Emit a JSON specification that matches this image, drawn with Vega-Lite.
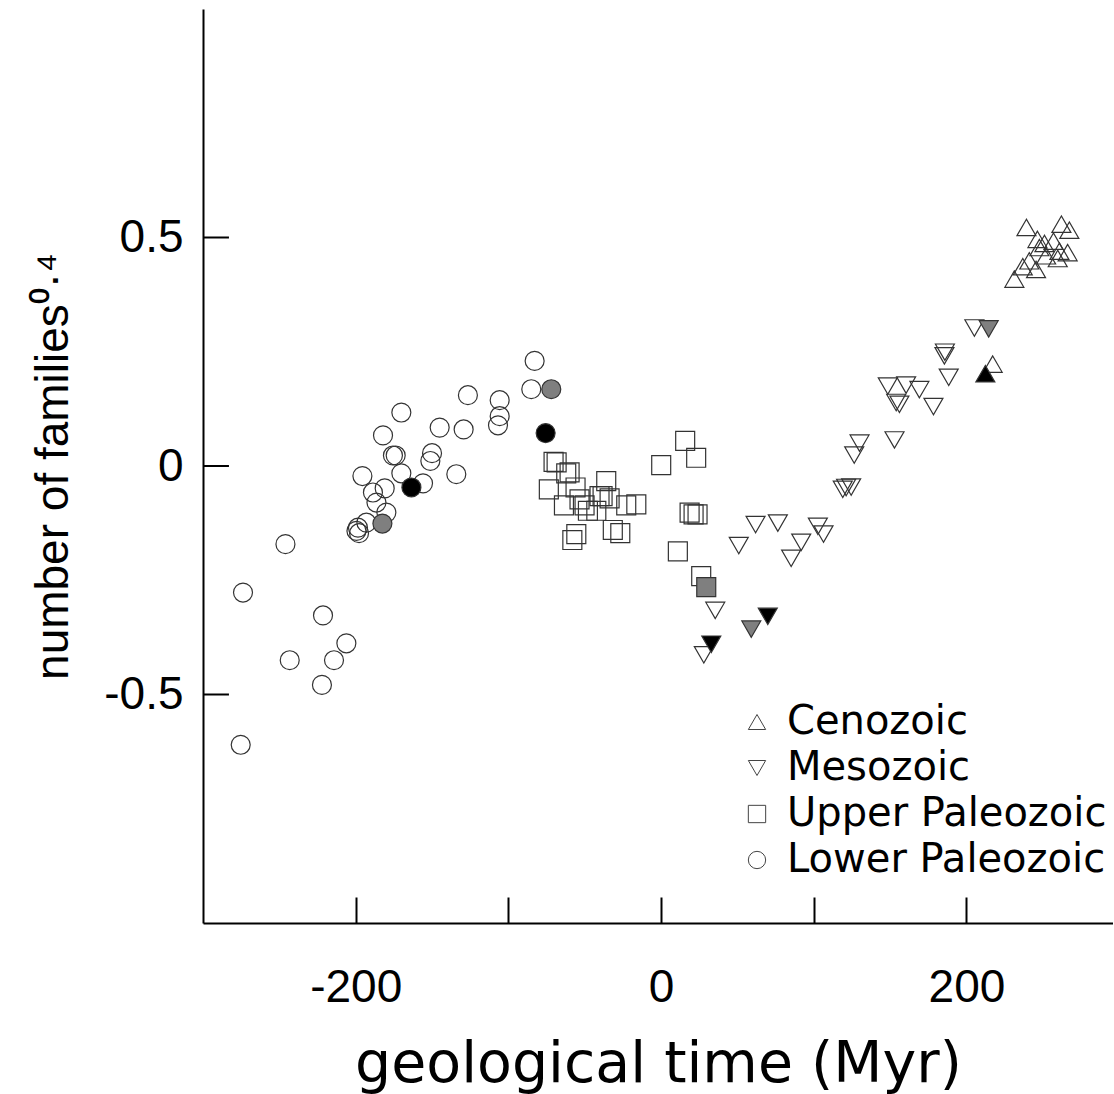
{
  "$schema": "https://vega.github.io/schema/vega-lite/v6.json",
  "width": 910,
  "height": 914,
  "autosize": {"type": "none"},
  "padding": {"left": 203, "top": 9, "right": 0, "bottom": 171},
  "background": "white",
  "config": {
    "view": {"stroke": null},
    "font": "Liberation Sans",
    "axis": {"grid": false, "domainColor": "black", "domainWidth": 2, "tickColor": "black", "tickWidth": 2, "labelColor": "black", "titleColor": "black", "titleFontWeight": "normal", "labelFont": "Liberation Sans"}
  },
  "layer": [
    {
      "data": {
        "values": [
          {"t": -275.3, "n": -0.610, "era": "Lower Paleozoic", "fill": "open"},
          {"t": -273.8, "n": -0.277, "era": "Lower Paleozoic", "fill": "open"},
          {"t": -246.0, "n": -0.171, "era": "Lower Paleozoic", "fill": "open"},
          {"t": -243.2, "n": -0.425, "era": "Lower Paleozoic", "fill": "open"},
          {"t": -222.1, "n": -0.479, "era": "Lower Paleozoic", "fill": "open"},
          {"t": -221.4, "n": -0.327, "era": "Lower Paleozoic", "fill": "open"},
          {"t": -214.2, "n": -0.425, "era": "Lower Paleozoic", "fill": "open"},
          {"t": -206.1, "n": -0.388, "era": "Lower Paleozoic", "fill": "open"},
          {"t": -198.5, "n": -0.135, "era": "Lower Paleozoic", "fill": "open"},
          {"t": -199.5, "n": -0.142, "era": "Lower Paleozoic", "fill": "open"},
          {"t": -197.8, "n": -0.147, "era": "Lower Paleozoic", "fill": "open"},
          {"t": -195.6, "n": -0.022, "era": "Lower Paleozoic", "fill": "open"},
          {"t": -193.0, "n": -0.124, "era": "Lower Paleozoic", "fill": "open"},
          {"t": -188.7, "n": -0.058, "era": "Lower Paleozoic", "fill": "open"},
          {"t": -186.4, "n": -0.080, "era": "Lower Paleozoic", "fill": "open"},
          {"t": -181.0, "n": -0.049, "era": "Lower Paleozoic", "fill": "open"},
          {"t": -182.1, "n": 0.067, "era": "Lower Paleozoic", "fill": "open"},
          {"t": -179.9, "n": -0.102, "era": "Lower Paleozoic", "fill": "open"},
          {"t": -175.6, "n": 0.023, "era": "Lower Paleozoic", "fill": "open"},
          {"t": -173.8, "n": 0.023, "era": "Lower Paleozoic", "fill": "open"},
          {"t": -170.1, "n": -0.016, "era": "Lower Paleozoic", "fill": "open"},
          {"t": -170.1, "n": 0.117, "era": "Lower Paleozoic", "fill": "open"},
          {"t": -155.9, "n": -0.038, "era": "Lower Paleozoic", "fill": "open"},
          {"t": -151.1, "n": 0.011, "era": "Lower Paleozoic", "fill": "open"},
          {"t": -150.0, "n": 0.028, "era": "Lower Paleozoic", "fill": "open"},
          {"t": -145.0, "n": 0.084, "era": "Lower Paleozoic", "fill": "open"},
          {"t": -134.1, "n": -0.018, "era": "Lower Paleozoic", "fill": "open"},
          {"t": -129.3, "n": 0.080, "era": "Lower Paleozoic", "fill": "open"},
          {"t": -126.5, "n": 0.155, "era": "Lower Paleozoic", "fill": "open"},
          {"t": -106.8, "n": 0.089, "era": "Lower Paleozoic", "fill": "open"},
          {"t": -105.7, "n": 0.109, "era": "Lower Paleozoic", "fill": "open"},
          {"t": -105.7, "n": 0.144, "era": "Lower Paleozoic", "fill": "open"},
          {"t": -85.0, "n": 0.168, "era": "Lower Paleozoic", "fill": "open"},
          {"t": -82.8, "n": 0.230, "era": "Lower Paleozoic", "fill": "open"},
          {"t": -163.5, "n": -0.047, "era": "Lower Paleozoic", "fill": "black"},
          {"t": -182.5, "n": -0.126, "era": "Lower Paleozoic", "fill": "gray"},
          {"t": -75.6, "n": 0.072, "era": "Lower Paleozoic", "fill": "black"},
          {"t": -71.9, "n": 0.168, "era": "Lower Paleozoic", "fill": "gray"},
          {"t": -70.4, "n": 0.009, "era": "Upper Paleozoic", "fill": "open"},
          {"t": -68.4, "n": 0.008, "era": "Upper Paleozoic", "fill": "open"},
          {"t": -62.1, "n": -0.016, "era": "Upper Paleozoic", "fill": "open"},
          {"t": -59.9, "n": -0.014, "era": "Upper Paleozoic", "fill": "open"},
          {"t": -73.5, "n": -0.051, "era": "Upper Paleozoic", "fill": "open"},
          {"t": -56.0, "n": -0.047, "era": "Upper Paleozoic", "fill": "open"},
          {"t": -63.6, "n": -0.086, "era": "Upper Paleozoic", "fill": "open"},
          {"t": -53.4, "n": -0.073, "era": "Upper Paleozoic", "fill": "open"},
          {"t": -35.9, "n": -0.033, "era": "Upper Paleozoic", "fill": "open"},
          {"t": -40.3, "n": -0.066, "era": "Upper Paleozoic", "fill": "open"},
          {"t": -38.3, "n": -0.066, "era": "Upper Paleozoic", "fill": "open"},
          {"t": -33.7, "n": -0.071, "era": "Upper Paleozoic", "fill": "open"},
          {"t": -42.4, "n": -0.098, "era": "Upper Paleozoic", "fill": "open"},
          {"t": -47.9, "n": -0.098, "era": "Upper Paleozoic", "fill": "open"},
          {"t": -50.1, "n": -0.086, "era": "Upper Paleozoic", "fill": "open"},
          {"t": -16.2, "n": -0.084, "era": "Upper Paleozoic", "fill": "open"},
          {"t": -22.8, "n": -0.086, "era": "Upper Paleozoic", "fill": "open"},
          {"t": -31.6, "n": -0.140, "era": "Upper Paleozoic", "fill": "open"},
          {"t": -26.7, "n": -0.147, "era": "Upper Paleozoic", "fill": "open"},
          {"t": -55.5, "n": -0.149, "era": "Upper Paleozoic", "fill": "open"},
          {"t": -58.1, "n": -0.162, "era": "Upper Paleozoic", "fill": "open"},
          {"t": 0.1, "n": 0.002, "era": "Upper Paleozoic", "fill": "open"},
          {"t": 15.8, "n": 0.055, "era": "Upper Paleozoic", "fill": "open"},
          {"t": 23.0, "n": 0.018, "era": "Upper Paleozoic", "fill": "open"},
          {"t": 18.7, "n": -0.102, "era": "Upper Paleozoic", "fill": "open"},
          {"t": 21.3, "n": -0.106, "era": "Upper Paleozoic", "fill": "open"},
          {"t": 23.9, "n": -0.106, "era": "Upper Paleozoic", "fill": "open"},
          {"t": 11.0, "n": -0.187, "era": "Upper Paleozoic", "fill": "open"},
          {"t": 26.3, "n": -0.241, "era": "Upper Paleozoic", "fill": "open"},
          {"t": 29.6, "n": -0.265, "era": "Upper Paleozoic", "fill": "gray"},
          {"t": 28.0, "n": -0.413, "era": "Mesozoic", "fill": "open"},
          {"t": 35.5, "n": -0.316, "era": "Mesozoic", "fill": "open"},
          {"t": 50.9, "n": -0.174, "era": "Mesozoic", "fill": "open"},
          {"t": 61.9, "n": -0.128, "era": "Mesozoic", "fill": "open"},
          {"t": 76.5, "n": -0.125, "era": "Mesozoic", "fill": "open"},
          {"t": 85.2, "n": -0.202, "era": "Mesozoic", "fill": "open"},
          {"t": 91.8, "n": -0.167, "era": "Mesozoic", "fill": "open"},
          {"t": 102.7, "n": -0.132, "era": "Mesozoic", "fill": "open"},
          {"t": 106.4, "n": -0.149, "era": "Mesozoic", "fill": "open"},
          {"t": 119.0, "n": -0.051, "era": "Mesozoic", "fill": "open"},
          {"t": 121.2, "n": -0.047, "era": "Mesozoic", "fill": "open"},
          {"t": 124.5, "n": -0.046, "era": "Mesozoic", "fill": "open"},
          {"t": 126.5, "n": 0.024, "era": "Mesozoic", "fill": "open"},
          {"t": 130.0, "n": 0.050, "era": "Mesozoic", "fill": "open"},
          {"t": 152.9, "n": 0.057, "era": "Mesozoic", "fill": "open"},
          {"t": 148.5, "n": 0.175, "era": "Mesozoic", "fill": "open"},
          {"t": 160.5, "n": 0.177, "era": "Mesozoic", "fill": "open"},
          {"t": 169.2, "n": 0.167, "era": "Mesozoic", "fill": "open"},
          {"t": 154.0, "n": 0.139, "era": "Mesozoic", "fill": "open"},
          {"t": 156.1, "n": 0.135, "era": "Mesozoic", "fill": "open"},
          {"t": 178.4, "n": 0.130, "era": "Mesozoic", "fill": "open"},
          {"t": 185.6, "n": 0.241, "era": "Mesozoic", "fill": "open"},
          {"t": 185.9, "n": 0.249, "era": "Mesozoic", "fill": "open"},
          {"t": 188.4, "n": 0.194, "era": "Mesozoic", "fill": "open"},
          {"t": 205.2, "n": 0.302, "era": "Mesozoic", "fill": "open"},
          {"t": 59.1, "n": -0.357, "era": "Mesozoic", "fill": "gray"},
          {"t": 69.9, "n": -0.329, "era": "Mesozoic", "fill": "black"},
          {"t": 32.9, "n": -0.390, "era": "Mesozoic", "fill": "black"},
          {"t": 214.6, "n": 0.300, "era": "Mesozoic", "fill": "gray"},
          {"t": 217.2, "n": 0.223, "era": "Cenozoic", "fill": "open"},
          {"t": 231.4, "n": 0.409, "era": "Cenozoic", "fill": "open"},
          {"t": 236.9, "n": 0.436, "era": "Cenozoic", "fill": "open"},
          {"t": 245.6, "n": 0.430, "era": "Cenozoic", "fill": "open"},
          {"t": 241.2, "n": 0.449, "era": "Cenozoic", "fill": "open"},
          {"t": 247.8, "n": 0.478, "era": "Cenozoic", "fill": "open"},
          {"t": 252.2, "n": 0.460, "era": "Cenozoic", "fill": "open"},
          {"t": 259.8, "n": 0.454, "era": "Cenozoic", "fill": "open"},
          {"t": 260.9, "n": 0.470, "era": "Cenozoic", "fill": "open"},
          {"t": 266.3, "n": 0.467, "era": "Cenozoic", "fill": "open"},
          {"t": 239.3, "n": 0.522, "era": "Cenozoic", "fill": "open"},
          {"t": 246.5, "n": 0.496, "era": "Cenozoic", "fill": "open"},
          {"t": 251.1, "n": 0.487, "era": "Cenozoic", "fill": "open"},
          {"t": 262.2, "n": 0.529, "era": "Cenozoic", "fill": "open"},
          {"t": 267.4, "n": 0.516, "era": "Cenozoic", "fill": "open"},
          {"t": 257.0, "n": 0.492, "era": "Cenozoic", "fill": "open"},
          {"t": 212.4, "n": 0.202, "era": "Cenozoic", "fill": "black"}
        ]
      },
      "mark": {"type": "point", "filled": true, "size": 360, "stroke": "#333333", "strokeWidth": 1.2, "opacity": 1},
      "encoding": {
        "x": {
          "field": "t", "type": "quantitative",
          "scale": {"domain": [-300, 296], "nice": false, "zero": false},
          "axis": {
            "title": "geological time (Myr)", "titleFont": "DejaVu Sans", "titleFontSize": 57, "titlePadding": 26,
            "values": [-200, -100, 0, 100, 200], "tickSize": -26,
            "labelExpr": "datum.value % 200 === 0 ? toString(datum.value) : ''",
            "labelFontSize": 46, "labelPadding": 68, "labelFlush": false, "labelOverlap": false
          }
        },
        "y": {
          "field": "n", "type": "quantitative",
          "scale": {"domain": [-1, 1], "nice": false, "zero": false},
          "axis": {
            "title": "number of families⁰·⁴", "titleFontSize": 46, "titlePadding": 26,
            "values": [-0.5, 0, 0.5], "ticks": false,
            "labelExpr": "toString(datum.value)",
            "labelFontSize": 46, "labelPadding": 20, "labelOverlap": false
          }
        },
        "shape": {
          "field": "era", "type": "nominal",
          "scale": {"domain": ["Cenozoic", "Mesozoic", "Upper Paleozoic", "Lower Paleozoic"], "range": ["triangle-up", "triangle-down", "square", "circle"]},
          "legend": {
            "title": null, "orient": "none", "legendX": 534, "legendY": 693,
            "labelFontSize": 40, "labelColor": "black", "labelFont": "DejaVu Sans", "labelLimit": 500, "labelOffset": 10,
            "symbolSize": 300, "symbolFillColor": "transparent", "symbolStrokeColor": "#444444", "symbolStrokeWidth": 1,
            "rowPadding": 6, "padding": 0,
            "encode": {"symbols": {"update": {"fill": {"value": "transparent"}, "stroke": {"value": "#444444"}}}}
          }
        },
        "fill": {
          "field": "fill", "type": "nominal",
          "scale": {"domain": ["open", "gray", "black"], "range": ["transparent", "#7f7f7f", "#000000"]},
          "legend": null
        }
      }
    },
    {
      "data": {"values": [{"n": -0.5}, {"n": 0}, {"n": 0.5}]},
      "mark": {"type": "rule", "color": "black", "strokeWidth": 2},
      "encoding": {
        "y": {"field": "n", "type": "quantitative"},
        "x": {"datum": -300},
        "x2": {"datum": -283}
      }
    }
  ]
}
